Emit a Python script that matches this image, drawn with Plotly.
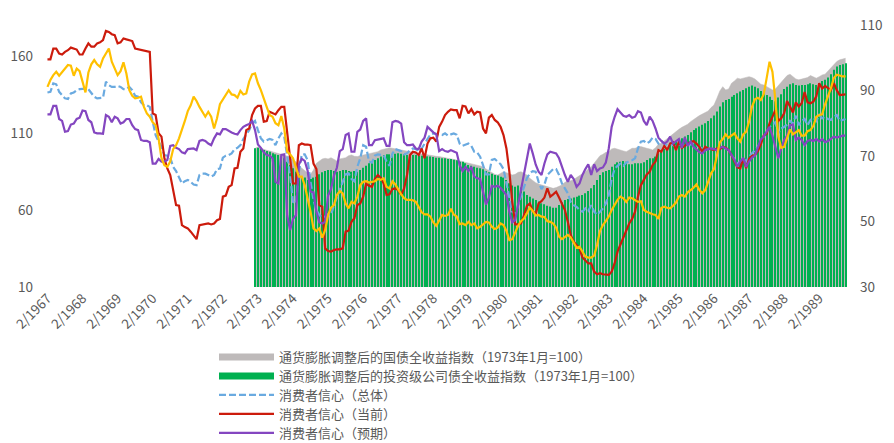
import pandas as pd
import plotly.graph_objects as go

# ---------------- categories (monthly, 2/1967 .. 11/1989) ----------------
months = pd.date_range("1967-02-01", "1989-11-01", freq="MS")
labels = [f"{d.month}/{d.year}" for d in months]
tick_labels = labels[0::12]   # 2/1967, 2/1968, ... 2/1989

# ---------------- consumer confidence (right axis) ----------------
conf_current = [  # 消费者信心（当前）
    99.5, 99.5, 102.8, 102.8, 101.3, 101.0, 101.8, 102.3, 103.1, 102.8, 102.5,
    101.0, 101.0, 102.8, 104.4, 103.4, 103.4, 104.4, 104.7, 105.4, 108.2, 107.9, 107.2,
    106.9, 104.4, 104.7, 105.9, 105.6, 105.4, 105.1, 102.8, 102.6, 102.5, 102.3, 102.0,
    101.8, 83.0, 82.5, 77.0, 75.9, 69.3, 66.2, 64.2, 60.1, 55.0, 54.8, 48.9,
    48.3, 47.9, 46.9, 45.9, 44.6, 48.9, 49.1, 49.4, 49.4, 49.1, 49.4, 50.4,
    50.8, 57.6, 57.9, 60.6, 61.1, 66.2, 66.4, 71.3, 72.3, 77.9, 78.4, 82.5,
    84.5, 85.3, 85.3, 80.5, 80.7, 83.5, 83.0, 82.7, 84.0, 85.0, 85.0, 77.4,
    70.3, 61.6, 61.6, 73.3, 73.8, 73.5, 73.5, 73.3, 67.7, 66.0, 55.0, 54.5,
    41.8, 41.0, 40.8, 41.3, 41.5, 41.5, 41.8, 46.9, 47.2, 49.9, 51.0, 55.0,
    55.5, 57.6, 61.6, 60.9, 60.6, 63.0, 64.2, 63.4, 61.6, 58.1, 58.3, 59.9,
    60.1, 59.6, 58.1, 60.1, 64.2, 70.3, 71.3, 71.1, 70.3, 72.3, 69.3, 73.8,
    75.4, 75.6, 74.4, 78.9, 80.5, 82.5, 83.5, 84.2, 84.0, 84.0, 81.5, 85.3,
    85.1, 83.0, 84.3, 82.7, 83.5, 83.3, 78.4, 76.9, 81.7, 82.5, 81.0, 80.3,
    78.9, 76.4, 72.3, 65.2, 56.0, 49.1, 49.1, 49.4, 51.9, 54.8, 55.5, 53.2,
    52.2, 55.5, 56.2, 57.3, 60.1, 57.6, 58.3, 59.1, 57.3, 55.5, 53.5, 49.9,
    45.9, 43.8, 42.8, 41.8, 39.0, 38.2, 37.2, 37.2, 34.7, 33.9, 34.2, 33.9,
    33.7, 33.7, 34.7, 37.2, 40.8, 43.0, 44.9, 47.4, 49.4, 50.8, 53.0, 57.6,
    61.1, 62.7, 64.4, 65.2, 67.2, 68.3, 71.8, 71.3, 73.1, 71.8, 73.8, 74.2,
    71.8, 74.4, 72.5, 73.1, 73.8, 74.2, 74.6, 73.8, 72.8, 71.3, 72.8, 72.3,
    72.1, 71.8, 72.3, 72.1, 72.8, 72.5, 71.8, 70.3, 68.3, 66.5, 66.2, 69.3,
    66.3, 69.1, 70.0, 70.3, 71.5, 73.5, 76.2, 76.8, 80.0, 82.3, 84.0, 80.7,
    81.5, 83.0, 86.8, 85.1, 83.3, 86.4, 85.1, 86.1, 89.5, 86.4, 86.1, 86.6,
    88.2, 92.2, 90.6, 91.4, 90.8, 90.1, 92.2, 90.1, 88.6, 88.8, 88.8,
]

conf_total = [  # 消费者信心（总体）
    89.4, 89.6, 92.2, 91.9, 89.6, 88.6, 87.6, 87.4, 89.1, 89.4, 90.1,
    90.4, 90.6, 90.6, 90.4, 89.1, 88.1, 87.6, 87.8, 87.8, 92.7, 91.6, 91.1,
    91.1, 91.4, 91.1, 90.4, 90.4, 91.1, 90.1, 88.4, 88.1, 86.4, 85.5, 85.5,
    85.0, 80.5, 76.4, 74.4, 72.8, 70.3, 70.1, 69.5, 66.7, 65.4, 63.2, 61.6,
    62.3, 62.7, 62.1, 61.3, 61.1, 64.2, 64.6, 64.6, 64.2, 63.7, 64.2, 66.0,
    66.2, 69.5, 70.1, 70.3, 70.8, 72.1, 72.5, 73.3, 75.2, 76.6, 77.9, 80.0,
    80.7, 77.9, 75.4, 74.4, 74.9, 75.2, 74.9, 73.3, 75.4, 76.9, 75.9, 70.3,
    64.2, 56.0, 55.5, 65.2, 70.5, 70.5, 68.7, 62.1, 56.6, 53.5, 52.0, 51.2,
    51.5, 52.2, 52.0, 55.0, 57.3, 59.6, 61.6, 64.4, 64.7, 63.0, 62.3, 66.7,
    69.3, 73.3, 72.8, 68.3, 68.0, 70.1, 70.5, 70.5, 70.3, 68.3, 67.0, 70.8,
    72.1, 71.8, 71.5, 70.5, 70.8, 71.8, 72.3, 72.1, 71.5, 72.3, 73.8, 75.4,
    76.6, 76.9, 76.8, 76.6, 76.4, 76.9, 76.2, 76.6, 76.9, 76.5, 73.8, 73.1,
    73.5, 73.8, 73.1, 71.3, 71.1, 69.8, 67.2, 64.4, 64.4, 68.8, 69.1, 68.3,
    67.5, 66.0, 61.6, 56.6, 53.0, 52.2, 55.0, 57.6, 60.1, 63.2, 64.7, 65.4,
    65.2, 62.1, 59.9, 61.3, 64.2, 65.2, 66.0, 66.0, 64.2, 61.6, 60.1, 58.6,
    56.0, 55.0, 54.5, 53.5, 53.0, 54.0, 53.2, 55.0, 53.0, 52.0, 53.0, 54.0,
    55.5, 58.0, 63.0, 66.0, 67.0, 67.7, 67.0, 68.0, 68.4, 68.7, 69.3, 72.3,
    74.4, 74.6, 73.8, 74.4, 75.6, 75.2, 73.8, 74.6, 73.8, 73.3, 73.8, 73.3,
    72.8, 73.5, 73.1, 73.3, 73.8, 73.5, 73.8, 73.3, 72.8, 72.3, 71.8, 72.3,
    72.1, 71.8, 72.1, 72.3, 72.5, 72.3, 71.8, 70.3, 69.1, 67.7, 68.3, 69.3,
    68.3, 69.8, 70.8, 71.8, 72.8, 74.4, 75.9, 77.4, 78.9, 79.6, 80.3, 76.9,
    78.4, 78.9, 79.6, 80.7, 79.9, 82.3, 79.4, 80.7, 81.3, 79.4, 81.0, 81.7,
    80.7, 82.5, 81.5, 82.0, 81.3, 81.0, 82.0, 82.5, 80.7, 81.0, 81.3,
]

conf_expect = [  # 消费者信心（预期）
    82.7, 82.7, 85.3, 85.3, 81.3, 80.7, 77.4, 77.6, 79.6, 79.9, 81.3,
    81.7, 83.9, 83.7, 81.0, 80.3, 77.2, 76.9, 76.9, 76.8, 82.5, 82.0, 80.3,
    82.0, 81.5, 79.9, 80.3, 81.3, 81.3, 79.4, 78.2, 77.9, 74.9, 74.6, 74.6,
    74.2, 67.7, 67.7, 69.1, 68.3, 68.3, 68.8, 73.1, 73.3, 72.5, 72.1, 71.1,
    70.8, 72.1, 72.3, 72.3, 71.8, 74.6, 74.9, 74.6, 73.8, 73.3, 75.4, 76.9,
    76.6, 78.2, 78.2, 77.6, 77.2, 76.8, 76.6, 77.9, 78.9, 79.4, 79.8, 80.7,
    77.9, 73.5, 72.5, 71.1, 70.3, 70.1, 69.3, 62.1, 61.6, 70.3, 70.5, 51.9,
    47.4, 50.8, 51.9, 67.4, 69.1, 68.5, 65.5, 59.1, 58.9, 53.0, 49.7, 49.4,
    49.9, 57.9, 59.9, 64.0, 66.4, 71.5, 72.1, 76.4, 76.9, 71.3, 71.3, 77.4,
    78.1, 80.7, 81.5, 73.3, 73.3, 74.8, 75.0, 75.2, 75.4, 73.1, 73.1, 80.3,
    80.7, 80.5, 79.9, 74.2, 73.3, 73.3, 73.5, 72.3, 72.1, 74.4, 75.6, 78.9,
    77.9, 77.2, 76.6, 71.5, 72.1, 71.5, 71.3, 71.8, 71.4, 71.0, 67.2, 65.4,
    66.7, 65.4, 66.7, 63.7, 63.2, 63.0, 59.1, 55.2, 57.3, 60.9, 60.6, 60.9,
    60.3, 59.3, 58.1, 53.0, 49.7, 50.4, 55.2, 59.6, 64.4, 69.8, 73.8, 70.8,
    67.4, 65.2, 64.2, 67.7, 70.5, 71.3, 71.1, 70.8, 69.3, 66.4, 64.2, 62.1,
    64.2, 63.0, 60.6, 61.6, 64.2, 66.0, 67.5, 64.2, 67.5, 65.4, 66.2, 66.5,
    68.0, 72.3, 78.9, 81.9, 84.3, 83.3, 82.3, 82.0, 82.5, 81.7, 82.0, 83.7,
    83.3, 80.7, 79.4, 82.0, 80.7, 78.4, 75.6, 74.6, 73.8, 74.4, 75.9, 73.8,
    74.4, 75.2, 72.5, 75.6, 73.1, 74.4, 72.8, 71.8, 71.1, 70.8, 71.8, 72.1,
    72.3, 72.1, 71.8, 72.5, 72.8, 72.3, 71.8, 70.3, 68.8, 66.7, 68.3, 69.4,
    66.7, 68.3, 69.5, 70.1, 72.3, 75.0, 75.9, 77.4, 78.9, 76.2, 72.8, 69.3,
    72.3, 74.9, 76.2, 79.4, 79.6, 74.9, 75.6, 74.9, 73.3, 74.6, 74.9, 74.6,
    75.2, 74.4, 75.2, 74.2, 74.6, 75.4, 75.9, 75.6, 75.9, 76.2, 76.2,
]

unlabeled_gold = [  # gold line (no legend entry in the original)
    91.1, 93.2, 94.7, 95.7, 94.5, 95.5, 96.7, 97.8, 97.6, 94.5, 96.7,
    95.9, 92.7, 89.4, 95.5, 98.0, 99.3, 98.0, 97.2, 99.8, 101.3, 102.8, 98.8,
    96.7, 94.7, 95.9, 98.6, 95.2, 90.1, 88.4, 87.6, 87.8, 88.1, 85.0, 83.0,
    82.0, 80.3, 79.4, 75.4, 69.3, 67.2, 66.7, 68.3, 72.1, 73.3, 75.4, 77.9,
    80.7, 83.7, 85.5, 88.1, 86.8, 85.0, 83.5, 82.0, 83.5, 82.0, 78.4, 81.5,
    85.8, 87.1, 88.8, 90.1, 88.8, 88.6, 87.8, 89.9, 88.8, 89.1, 92.7, 94.9,
    95.2, 92.2, 90.1, 87.8, 85.0, 82.5, 82.0, 80.0, 79.4, 82.2, 78.4, 71.3,
    70.5, 69.3, 66.7, 63.7, 63.7, 61.1, 57.0, 53.0, 47.9, 47.1, 47.9, 45.1,
    47.4, 52.0, 54.2, 55.0, 58.1, 59.3, 58.6, 55.5, 54.0, 56.0, 55.5, 57.6,
    61.1, 62.1, 62.3, 61.9, 62.1, 62.3, 63.0, 62.7, 63.2, 60.6, 60.1, 62.3,
    61.3, 59.6, 58.3, 57.1, 56.6, 56.6, 56.5, 56.0, 54.5, 52.8, 52.2, 52.2,
    51.5, 49.7, 48.7, 50.4, 52.0, 51.7, 52.0, 53.9, 52.1, 51.5, 49.2, 49.4,
    48.9, 49.9, 48.9, 49.4, 47.9, 48.4, 49.1, 49.9, 49.7, 48.4, 47.7, 48.1,
    49.4, 48.9, 47.1, 44.3, 44.6, 46.7, 48.7, 50.1, 50.9, 52.5, 54.2, 53.2,
    51.8, 52.0, 51.5, 51.4, 50.1, 49.9, 49.4, 48.1, 45.4, 44.6, 45.4, 45.9,
    45.1, 43.6, 42.0, 42.3, 41.0, 39.3, 39.0, 39.0, 39.6, 42.8, 47.1, 48.9,
    50.1, 51.5, 53.5, 55.2, 56.6, 57.6, 57.1, 56.0, 57.3, 57.1, 56.6, 56.0,
    56.2, 53.5, 53.0, 52.5, 52.2, 52.0, 50.8, 54.2, 54.5, 54.2, 54.0, 54.8,
    55.8, 57.6, 58.1, 57.6, 58.9, 59.6, 60.3, 61.3, 59.6, 58.6, 59.6, 62.1,
    64.7, 66.0, 70.3, 74.2, 75.2, 76.6, 75.6, 76.4, 76.9, 75.4, 74.4, 76.6,
    77.4, 80.5, 85.0, 87.3, 87.8, 87.1, 88.8, 93.7, 98.8, 95.7, 87.1, 75.9,
    72.5, 72.8, 75.2, 78.1, 76.6, 77.2, 77.9, 76.2, 76.2, 77.6, 77.9, 79.2,
    82.0, 82.5, 82.7, 85.8, 88.2, 90.7, 93.8, 94.8, 94.6, 94.3, 94.3,
]

# ---------------- bond indices (left axis), from 1/1973 ----------------
idx_start = labels.index("1/1973")
treasury_idx = [  # 通货膨胀调整后的国债全收益指数
    100.0, 100.9, 100.0, 99.1, 98.7, 98.3, 97.8, 97.2, 96.8, 96.1, 95.7, 95.0,
    94.4, 92.4, 91.3, 88.7, 87.0, 85.9, 84.0, 83.1, 85.9, 90.3, 91.8, 93.1,
    93.5, 93.1, 93.9, 93.1, 91.8, 93.1, 93.5, 93.9, 95.2, 95.7, 94.8, 94.6,
    95.2, 95.7, 96.1, 96.8, 97.2, 97.8, 97.8, 98.9, 99.4, 100.0, 100.4, 100.0,
    99.6, 99.1, 98.9, 98.3, 97.8, 97.8, 97.8, 97.2, 96.8, 96.3, 96.1, 95.7,
    95.5, 95.2, 94.8, 94.6, 94.2, 93.9, 93.5, 93.3, 93.1, 92.4, 91.8, 91.3,
    90.7, 90.3, 89.8, 89.6, 89.2, 88.7, 88.1, 86.6, 85.3, 84.4, 83.1, 82.7,
    83.8, 84.8, 84.2, 83.5, 82.7, 83.1, 84.4, 84.8, 83.8, 82.7, 80.5, 78.8,
    77.7, 76.8, 76.2, 75.8, 75.1, 74.5, 74.0, 74.5, 75.1, 76.2, 77.9, 78.8,
    79.0, 79.7, 81.0, 82.3, 83.1, 84.8, 86.6, 88.1, 90.3, 93.1, 95.2, 96.1,
    97.4, 97.8, 99.6, 100.0, 99.6, 98.9, 98.3, 97.8, 98.9, 100.0, 100.0, 100.9,
    101.1, 100.4, 100.0, 99.6, 98.9, 100.4, 102.6, 103.2, 104.8, 106.5, 107.8, 109.3,
    110.8, 112.3, 113.6, 114.7, 115.6, 117.3, 118.4, 119.9, 121.2, 122.1, 123.2, 124.2,
    126.4, 128.1, 132.5, 137.2, 140.0, 137.9, 138.5, 142.2, 143.7, 145.5, 145.0, 145.5,
    146.3, 146.5, 145.9, 145.0, 143.3, 141.6, 141.1, 140.0, 139.0, 137.9, 138.5, 140.7,
    143.3, 145.5, 147.2, 148.1, 146.5, 145.0, 144.4, 145.0, 145.5, 145.9, 147.2, 146.5,
    145.5, 146.5, 147.6, 148.1, 150.2, 152.0, 154.1, 156.3, 157.4, 158.0, 158.4,
]
corporate_idx = [  # 通货膨胀调整后的投资级公司债全收益指数
    100.0, 100.4, 99.6, 98.9, 98.3, 97.8, 96.8, 96.1, 95.7, 94.6, 93.5, 91.3,
    89.2, 87.0, 84.8, 83.1, 81.6, 81.0, 79.4, 80.1, 81.0, 81.6, 83.1, 84.4,
    85.3, 85.9, 85.9, 85.3, 84.8, 85.3, 85.9, 85.9, 85.3, 84.8, 85.3, 84.8,
    85.9, 87.4, 88.7, 90.3, 91.3, 92.4, 93.5, 94.6, 95.7, 96.1, 96.1, 96.1,
    96.5, 96.8, 96.5, 96.1, 95.7, 95.7, 95.7, 95.7, 95.2, 95.2, 94.8, 94.8,
    94.6, 94.4, 93.9, 93.9, 93.5, 93.5, 93.1, 93.1, 92.6, 92.2, 91.3, 91.3,
    90.3, 89.2, 88.7, 88.1, 87.4, 87.0, 86.4, 85.3, 84.4, 83.5, 82.7, 82.3,
    81.6, 81.0, 79.4, 77.3, 75.8, 75.1, 75.8, 74.5, 71.9, 69.7, 68.6, 67.5,
    66.5, 65.4, 64.3, 63.7, 62.8, 62.2, 61.5, 61.5, 63.2, 64.9, 66.5, 67.1,
    67.5, 68.0, 68.6, 69.3, 69.7, 70.8, 72.3, 74.0, 76.2, 79.4, 82.7, 84.4,
    85.3, 85.9, 88.1, 89.6, 90.9, 91.3, 91.8, 91.3, 89.6, 89.6, 90.3, 90.3,
    90.3, 90.9, 92.4, 93.5, 93.5, 94.6, 96.8, 97.8, 99.6, 100.4, 102.2, 103.9,
    104.8, 106.1, 106.5, 107.6, 108.7, 110.4, 111.9, 113.0, 114.1, 115.2, 116.2, 117.7,
    119.5, 121.2, 123.8, 127.1, 129.9, 131.4, 132.0, 133.5, 134.6, 135.7, 136.8, 137.9,
    139.0, 140.0, 140.7, 140.0, 139.0, 137.2, 136.4, 134.6, 133.5, 131.4, 130.6, 132.9,
    135.1, 138.5, 140.0, 141.6, 142.2, 141.1, 140.7, 141.1, 141.1, 141.6, 142.2, 141.6,
    141.1, 142.2, 143.7, 144.4, 145.9, 148.1, 150.9, 153.0, 154.1, 154.5, 155.2,
]

left_ticks = [10, 60, 110, 160]
right_ticks = [30, 50, 70, 90, 110]

names = [
    "通货膨胀调整后的国债全收益指数（1973年1月=100）",
    "通货膨胀调整后的投资级公司债全收益指数（1973年1月=100）",
    "消费者信心（总体）",
    "消费者信心（当前）",
    "消费者信心（预期）",
]

GRAY, GREEN = "#bebaba", "#00b050"
BLUE, RED, PURPLE, GOLD = "#6aaae0", "#cc1b0c", "#8446c0", "#ffc000"
TXT = "#595959"
FONT = "Noto Sans CJK SC, Noto Sans, sans-serif"

bond_x = labels[idx_start:]

fig = go.Figure()

# legend-only samples (thick bars in the legend, as in the original)
fig.add_trace(go.Scatter(x=[None], y=[None], mode="lines", name=names[0],
                         line=dict(color=GRAY, width=7), yaxis="y", legend="legend"))
fig.add_trace(go.Scatter(x=[None], y=[None], mode="lines", name=names[1],
                         line=dict(color=GREEN, width=7), yaxis="y", legend="legend2"))

# treasury index area (base axis)
fig.add_trace(go.Scatter(x=bond_x, y=treasury_idx, mode="lines", fill="tozeroy",
                         fillcolor=GRAY, line=dict(color=GRAY, width=0.5),
                         showlegend=False, yaxis="y", hoverinfo="skip"))
# corporate index columns
fig.add_trace(go.Bar(x=bond_x, y=corporate_idx, width=0.36,
                     marker=dict(color=GREEN, line_width=0),
                     showlegend=False, yaxis="y2", base=0))

# confidence lines on right axis
fig.add_trace(go.Scatter(x=labels, y=conf_total, mode="lines", name=names[2],
                         line=dict(color=BLUE, width=2.2, dash="7px,3px"),
                         yaxis="y3", legend="legend3"))
fig.add_trace(go.Scatter(x=labels, y=conf_current, mode="lines", name=names[3],
                         line=dict(color=RED, width=2.2), yaxis="y3", legend="legend4"))
fig.add_trace(go.Scatter(x=labels, y=conf_expect, mode="lines", name=names[4],
                         line=dict(color=PURPLE, width=2.2), yaxis="y3", legend="legend5"))
fig.add_trace(go.Scatter(x=labels, y=unlabeled_gold, mode="lines", showlegend=False,
                         line=dict(color=GOLD, width=2.2), yaxis="y3"))

# the page body has an 8px margin, so the figure is laid out 8px in from the window edge
OFF = 8
W, H = 894 - OFF, 443 - OFF
row_centers = [357, 376, 395, 414, 433]          # window pixels
legend_common = dict(xref="container", yref="container", x=(214 - OFF) / W, xanchor="left",
                     yanchor="middle", font=dict(size=13, color=TXT, family=FONT),
                     itemwidth=55, bgcolor="rgba(0,0,0,0)", borderwidth=0)
legends = {}
for i, yc in enumerate(row_centers):
    key = "legend" if i == 0 else f"legend{i + 1}"
    legends[key] = dict(legend_common, y=(H - (yc - OFF)) / H)

fig.update_layout(
    width=W, height=H,
    margin=dict(l=46 - OFF, r=W - (847 - OFF), t=25 - OFF, b=H - (287 - OFF), autoexpand=False),
    plot_bgcolor="white", paper_bgcolor="white",
    font=dict(family=FONT, color=TXT, size=14),
    barmode="overlay",
    xaxis=dict(type="category", categoryorder="array", categoryarray=labels,
               range=[-0.5, len(labels) - 0.5], automargin=False,
               tickmode="array", tickvals=tick_labels, ticktext=tick_labels,
               tickangle=-45, showgrid=False, zeroline=False, showline=False,
               ticks="", tickfont=dict(size=13.5, color=TXT)),
    yaxis=dict(range=[10, 180], tickvals=left_ticks, showgrid=False, zeroline=False,
               showline=False, ticks="", tickfont=dict(size=13.5, color=TXT),
               ticklabelstandoff=12, automargin=False),
    yaxis2=dict(range=[10, 180], overlaying="y", visible=False, automargin=False),
    yaxis3=dict(range=[30, 110], tickvals=right_ticks, overlaying="y", side="right",
                showgrid=False, zeroline=False, showline=False, ticks="",
                tickfont=dict(size=13.5, color=TXT), ticklabelstandoff=12,
                automargin=False),
    hovermode=False,
    **legends,
)

fig.write_html("out.html")
